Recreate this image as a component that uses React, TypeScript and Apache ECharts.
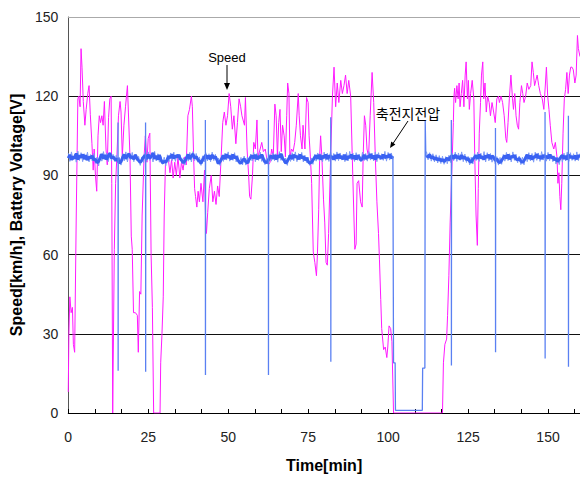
import React, { useEffect, useRef } from "react";
import * as echarts from "echarts";

// ---- Axis ticks ----
const timeTicks = { min: 0, max: 160, interval: 25 };
const valueTicks = { min: 0, max: 150, interval: 30 };

// ---- Speed [km/h] vs time [min] ----
const speedPoints: [number, number][] = [
  [0, 8], [0.2, 30], [0.5, 44], [0.9, 38], [1.3, 40], [1.6, 26], [2.0, 23], [2.5, 75], [3.0, 119], [3.3, 120],
  [3.7, 116], [4.0, 138], [4.3, 131], [4.7, 118], [5.2, 109], [5.6, 115], [6.1, 121], [6.5, 124], [6.9, 113], [7.4, 102],
  [7.8, 92], [8.1, 100], [8.5, 90], [8.9, 84], [9.3, 105], [9.7, 112.6], [10.1, 110], [10.5, 112.6], [10.9, 109], [11.3, 118],
  [11.8, 100], [12.2, 94], [12.6, 112], [13.0, 119], [13.4, 120], [13.6, 87], [13.9, 0], [14.1, 0], [14.4, 62], [14.8, 87],
  [15.2, 97], [15.7, 112.6], [16.2, 118], [16.5, 114], [16.9, 97], [17.4, 109], [17.9, 116], [18.5, 124], [18.8, 114], [19.3, 97],
  [19.7, 67], [20.0, 62], [20.4, 38], [21.0, 38], [21.6, 37], [21.9, 23], [22.3, 46], [22.7, 45], [23.1, 75], [23.7, 97],
  [24.1, 105], [24.6, 95], [25.0, 104], [25.5, 106], [25.9, 60], [26.3, 40], [26.7, 0], [28.7, 0], [28.9, 19], [29.3, 30],
  [29.7, 44], [30.0, 75], [30.4, 95], [31.2, 97], [31.8, 91], [32.3, 96], [32.8, 89], [33.3, 95], [33.8, 90], [34.3, 97],
  [34.9, 89], [35.4, 95], [35.9, 92], [36.4, 97], [36.9, 94], [37.4, 112.6], [37.9, 115], [38.5, 120], [38.8, 116], [39.2, 97],
  [39.5, 85], [39.8, 82], [40.2, 78], [40.6, 84], [41.0, 80], [41.5, 87], [42.1, 80], [42.6, 92], [42.9, 75], [43.2, 68],
  [43.6, 76], [44.1, 85], [44.7, 90], [45.2, 80], [45.7, 84], [46.2, 79], [46.7, 86], [47.2, 82], [47.8, 97], [48.3, 110],
  [48.8, 114], [49.3, 109], [49.8, 112.6], [50.3, 121], [50.8, 116], [51.3, 107.5], [51.8, 112.6], [52.4, 102], [52.9, 110], [53.4, 119],
  [53.9, 116], [54.3, 112.6], [55.1, 109], [55.4, 119.5], [55.9, 100], [56.4, 90], [56.7, 82], [57.1, 81], [57.6, 90], [58.0, 102.5],
  [58.5, 100], [59.0, 111], [59.3, 97], [60.0, 100], [60.5, 102.5], [61.0, 99], [61.6, 100], [62.1, 96], [62.6, 94], [63.1, 95],
  [63.6, 100], [64.1, 97], [64.6, 117], [65.0, 112.6], [65.4, 97], [65.8, 110], [66.2, 115], [66.6, 99], [67.0, 109], [67.5, 105],
  [67.9, 97], [68.3, 112.6], [68.6, 125], [69.0, 121], [69.3, 97], [69.8, 100], [70.3, 99], [70.8, 102.5], [71.3, 109], [71.9, 121],
  [72.2, 112.6], [72.6, 105], [73.1, 100], [73.4, 109], [74.0, 100], [74.5, 119.5], [75.0, 117.6], [75.3, 105], [75.7, 97], [76.1, 87],
  [76.6, 61], [77.1, 57], [77.6, 52], [77.9, 60], [78.3, 77], [78.6, 97], [78.9, 105], [79.3, 97], [79.8, 81], [80.2, 72],
  [80.6, 57], [81.0, 56], [81.4, 68], [82.1, 100], [82.6, 120], [83.1, 131], [83.6, 116], [84.1, 125], [84.6, 117.6], [85.2, 126],
  [85.7, 121], [86.2, 124], [86.7, 128], [87.2, 121], [87.7, 126], [88.3, 120], [88.8, 97], [89.3, 75], [89.6, 62], [90.0, 64],
  [90.3, 87], [90.8, 88], [91.4, 80], [91.9, 78], [92.2, 97], [92.6, 112.6], [93.0, 109], [93.4, 100], [93.9, 97], [94.4, 112.6],
  [95.0, 129], [95.5, 117.6], [96.0, 97], [96.5, 80], [97.0, 68], [97.3, 58], [97.7, 43], [98.0, 32], [98.6, 24], [99.1, 25],
  [99.6, 21], [99.9, 25], [100.3, 33], [100.8, 32], [101.2, 27], [101.7, 0], [117.0, 0], [117.3, 19], [117.75, 26], [118.3, 28],
  [118.6, 37], [119.0, 52], [119.4, 72], [119.8, 87], [120.4, 110], [120.6, 120], [120.8, 123], [121.1, 117.6], [121.5, 124], [121.9, 119],
  [122.2, 125], [122.5, 116], [122.9, 121], [123.3, 126], [123.7, 116], [124.1, 128], [124.4, 133], [124.8, 119], [125.1, 126], [125.4, 115],
  [125.8, 121], [126.3, 126], [126.8, 119], [127.1, 97], [127.5, 75], [127.9, 63.5], [128.2, 85], [128.5, 106], [128.9, 117.6], [129.2, 128],
  [129.6, 133], [129.9, 119], [130.3, 125], [130.7, 114], [131.1, 120], [131.6, 117.6], [132.0, 112.6], [132.5, 117.6], [133.0, 114], [133.5, 110],
  [134.0, 119], [134.5, 120], [134.8, 117.6], [135.3, 120], [135.8, 117.6], [136.3, 112.6], [136.8, 104], [137.1, 102.5], [137.5, 110], [137.9, 119],
  [138.4, 128], [138.9, 119], [139.2, 115], [139.6, 121], [140.0, 112.6], [140.4, 109], [140.8, 107.5], [141.2, 117.6], [141.7, 124], [142.1, 121],
  [142.5, 117.6], [143.0, 120], [143.5, 125], [144.0, 122.6], [144.6, 124], [145.0, 133], [145.4, 129], [145.8, 124], [146.2, 126], [146.6, 128],
  [147.1, 124], [147.6, 121], [148.2, 119], [148.7, 115], [149.2, 125], [149.5, 131], [149.9, 120], [150.3, 115], [150.7, 109], [151.2, 102.5],
  [151.8, 100], [152.3, 102.5], [152.8, 97], [153.1, 87], [153.4, 91], [153.7, 82], [154.0, 77], [154.3, 87], [154.7, 106], [155.1, 119],
  [155.5, 122.6], [155.9, 129], [156.3, 121], [156.7, 128], [157.1, 131], [157.5, 131], [157.9, 130], [158.4, 125], [158.8, 128], [159.2, 143],
  [159.5, 138], [160, 135],
];

// ---- Battery voltage [V], mean trace sampled every 0.5 min ----
const voltageStartA = 0;
const voltageA = [
  96.5, 97.8, 95.9, 97.2, 96.4, 98.3, 96.0, 97.5, 96.8, 97.9,
  96.2, 97.6, 95.8, 97.0, 96.6, 97.4, 95.9, 96.1, 94.8, 95.3,
  96.7, 98.1, 96.3, 97.7, 96.0, 97.3, 98.4, 96.5, 97.1, 96.2,
  95.7, 96.4, 94.6, 95.2, 96.8, 97.9, 96.3, 97.5, 98.2, 96.6,
  97.3, 96.1, 97.8, 96.4, 95.6, 94.9, 95.8, 96.9, 97.6, 96.2,
  97.9, 96.5, 97.2, 98.5, 96.3, 97.4, 96.0, 97.7, 95.8, 94.7,
  95.4, 94.9, 96.2, 97.3, 96.6, 98.0, 96.4, 97.5, 96.9, 97.8,
  96.3, 95.6, 94.8, 95.5, 96.7, 97.9, 96.2, 97.4, 98.1, 96.5,
  97.2, 96.0, 95.4, 94.6, 95.9, 96.8, 97.7, 96.3, 97.5, 96.1,
  97.8, 96.6, 97.1, 95.8, 94.5, 95.3, 96.4, 97.6, 96.2, 98.0,
  96.7, 97.4, 96.1, 97.9, 96.5, 97.2, 95.9, 95.0, 94.6, 95.7,
  96.3, 95.2, 94.7, 95.9, 96.8, 97.5, 96.4, 97.8, 96.1, 97.3,
  96.6, 97.9, 96.2, 95.1, 94.8, 95.6, 96.9, 97.4, 96.3, 97.7,
  96.0, 97.5, 96.8, 98.2, 96.4, 95.7, 94.6, 95.4, 96.5, 97.6,
  96.2, 97.8, 96.9, 97.3, 96.1, 97.9, 96.5, 97.2, 95.8, 96.6,
  95.3, 94.6, 94.9, 95.8, 96.7, 97.6, 96.3, 97.8, 96.0, 97.4,
  96.6, 97.9, 96.2, 97.5, 96.8, 97.1, 96.0, 97.7, 96.4, 98.0,
  96.5, 97.3, 96.1, 97.8, 95.9, 97.2, 96.6, 97.9, 96.3, 97.5,
  96.0, 97.6, 96.8, 95.7, 96.4, 97.8, 96.2, 97.3, 96.7, 98.1,
  96.4, 97.5, 96.0, 97.7, 96.9, 97.2, 96.3, 97.9, 96.6, 97.4,
  96.8, 98.0, 96.5, 97.3,
];
const voltageStartB = 112;
const voltageB = [
  97.6, 96.8, 97.9, 96.5, 97.2, 96.0, 96.7, 95.8, 96.4, 95.5,
  96.1, 95.2, 95.9, 96.6, 95.7, 96.9, 97.5, 96.3, 97.8, 96.6,
  97.3, 96.1, 97.7, 96.4, 97.0, 95.9, 96.5, 95.3, 95.0, 96.2,
  96.8, 97.6, 96.3, 97.9, 96.5, 97.2, 96.0, 97.5, 96.7, 97.8,
  96.2, 97.4, 96.8, 95.6, 96.3, 95.1, 94.8, 95.7, 96.6, 97.5,
  96.4, 97.9, 96.1, 97.3, 96.9, 97.6, 96.2, 95.8, 96.5, 95.4,
  94.9, 95.6, 96.7, 97.8, 96.3, 97.5, 96.0, 97.2, 96.8, 98.1,
  96.5, 97.4, 96.2, 97.7, 96.9, 97.3, 96.4, 97.9, 96.6, 97.1,
  95.8, 96.5, 95.2, 96.1, 96.9, 97.6, 96.3, 97.4, 96.0, 97.8,
  96.7, 97.2, 96.4, 97.5, 96.1, 97.6, 96.9,
];
// ---- Battery voltage ripple extremes (light fringe), same sampling ----
const rippleA = [
  98.4, 95.3, 98.9, 95.8, 98.1, 95.0, 99.2, 95.6, 98.6, 95.2,
  98.2, 95.7, 98.8, 95.1, 97.9, 95.5, 98.3, 94.6, 96.9, 93.6,
  98.1, 95.4, 99.0, 95.9, 98.5, 95.2, 98.7, 95.6, 98.0, 95.3,
  97.6, 94.7, 96.8, 93.9, 98.2, 95.5, 98.9, 95.1, 98.4, 95.8,
  98.7, 95.2, 98.1, 95.6, 97.2, 93.8, 97.0, 94.9, 98.6, 95.4,
  98.9, 95.7, 98.3, 95.1, 99.1, 95.5, 98.2, 95.0, 97.1, 94.2,
  96.9, 93.7, 97.8, 95.2, 98.5, 95.6, 98.8, 95.3, 98.1, 95.8,
  97.8, 94.6, 96.7, 93.9, 98.0, 95.4, 98.7, 95.1, 99.0, 95.6,
  98.3, 95.0, 97.0, 93.8, 97.4, 95.1, 98.6, 95.5, 98.2, 95.2,
  98.8, 95.6, 98.0, 94.5, 96.6, 93.7, 97.6, 95.3, 98.4, 95.8,
  98.9, 95.4, 98.2, 95.7, 98.6, 95.1, 97.5, 94.2, 96.8, 94.0,
  97.3, 93.9, 96.9, 94.6, 98.1, 95.5, 98.7, 95.2, 98.3, 95.7,
  98.8, 95.3, 97.6, 94.1, 96.7, 94.3, 97.9, 95.4, 98.5, 95.6,
  98.2, 95.0, 99.0, 95.7, 98.1, 94.8, 96.6, 93.8, 97.7, 95.3,
  98.6, 95.5, 98.9, 95.2, 98.3, 95.8, 98.7, 95.1, 97.6, 94.9,
  96.9, 93.8, 96.6, 94.2, 97.9, 95.4, 98.5, 95.6, 98.2, 95.1,
  98.8, 95.7, 98.4, 95.3, 99.0, 95.9, 98.3, 95.4, 98.9, 95.6,
  98.5, 95.8, 98.1, 95.2, 98.7, 95.5, 99.1, 95.9, 98.4, 95.3,
  98.6, 95.7, 98.0, 95.1, 98.8, 95.6, 98.3, 95.4, 99.0, 95.8,
  98.4, 95.5, 98.9, 95.2, 98.6, 95.9, 98.2, 95.7, 99.1, 95.4,
  98.7, 95.8, 98.5, 96.1,
];
const rippleB = [
  99.0, 95.9, 98.6, 95.4, 98.2, 95.1, 97.8, 94.7, 97.5, 94.5,
  97.3, 94.2, 97.1, 94.4, 97.6, 94.9, 98.4, 95.6, 98.8, 95.3,
  98.5, 95.7, 98.9, 95.2, 98.1, 94.9, 97.2, 94.0, 96.9, 94.3,
  98.2, 95.6, 98.8, 95.3, 98.4, 95.8, 99.0, 95.1, 98.6, 95.5,
  98.3, 95.0, 97.6, 94.4, 97.1, 93.9, 96.8, 94.2, 97.9, 95.4,
  98.7, 95.6, 98.2, 95.1, 98.9, 95.7, 98.0, 94.8, 97.3, 94.1,
  96.9, 94.0, 97.8, 95.2, 98.6, 95.5, 98.3, 95.0, 98.8, 95.7,
  98.5, 95.3, 99.0, 95.8, 98.2, 95.4, 98.7, 95.6, 98.1, 95.2,
  97.4, 94.3, 96.9, 94.1, 97.7, 95.0, 98.4, 95.5, 98.8, 95.3,
  98.6, 95.7, 98.2, 95.4, 98.9, 95.6, 98.3,
];
// [time, peak before drop, lowest value, value after]
const voltageDrops: [number, number, number, number][] = [
  [15.6, 110, 16, 96.8], [24.2, 110, 15.6, 97.0], [42.9, 111, 14.4, 96.5], [62.6, 111, 14.4, 96.7],
  [82.1, 112, 19.4, 97.2], [119.8, 111, 18, 96.9], [133.6, 108, 23, 96.6], [149.1, 114, 20.6, 97.0],
  [156.4, 112.6, 17.5, 96.8],
];
// charger off period
const voltageOutage: [number, number][] = [
  [101.5, 97.3], [101.6, 97.2], [101.7, 19], [102.2, 19], [102.3, 1], [110.7, 1], [110.8, 17], [111.5, 17], [111.6, 111], [111.8, 97.4], [112, 97.6],
];

function sampled(a: number[], b: number[]): (number | string)[][] {
  const pts: (number | string)[][] = [];
  a.forEach((v, i) => pts.push([voltageStartA + i * 0.5, v]));
  pts.push([106, "-"]);
  b.forEach((v, i) => pts.push([voltageStartB + i * 0.5, v]));
  return pts;
}

function buildSpikes(): (number | string)[][] {
  const pts: (number | string)[][] = [];
  voltageDrops.forEach(([t, hi, lo, back]) => {
    pts.push([t - 0.03, hi], [t, lo], [t + 0.03, back], [t + 0.05, "-"]);
  });
  voltageOutage.forEach((p) => pts.push(p));
  pts.push([112.05, "-"]);
  pts.sort((a, b) => (a[0] as number) - (b[0] as number));
  return pts;
}

const numFont = "'Liberation Sans', Arial, sans-serif";

export default function App() {
  const ref = useRef<HTMLDivElement>(null);
  useEffect(() => {
    if (!ref.current) return;
    const chart = echarts.init(ref.current, null, { renderer: "svg" });
    chart.setOption({
      animation: false,
      grid: { left: 65, right: -2, top: 17, bottom: 64, containLabel: false },
      xAxis: [
        {
          type: "value",
          min: timeTicks.min,
          max: timeTicks.max,
          interval: timeTicks.interval,
          name: "Time[min]",
          nameLocation: "middle",
          nameGap: 44,
          nameTextStyle: { fontFamily: numFont, fontWeight: "bold", fontSize: 16, color: "#000" },
          axisLine: { lineStyle: { color: "#000", width: 1 } },
          axisTick: { show: true, inside: true, length: 4, lineStyle: { color: "#000" } },
          minorTick: { show: true, splitNumber: 3, length: 4, lineStyle: { color: "#000" } },
          splitLine: { show: false },
          axisLabel: { fontFamily: numFont, fontSize: 14, color: "#222", margin: 17, showMaxLabel: false },
        },
        {
          type: "value",
          position: "top",
          min: timeTicks.min,
          max: timeTicks.max,
          interval: timeTicks.interval,
          axisLine: { show: true, lineStyle: { color: "#aaa", width: 1 } },
          axisTick: { show: false },
          axisLabel: { show: false },
          splitLine: { show: false },
        },
      ],
      yAxis: {
        type: "value",
        min: valueTicks.min,
        max: valueTicks.max,
        interval: valueTicks.interval,
        name: "Speed[km/h], Battery Voltage[V]",
        nameLocation: "middle",
        nameGap: 38,
        nameRotate: 90,
        nameTextStyle: { fontFamily: numFont, fontWeight: "bold", fontSize: 16, color: "#000" },
        axisLine: { show: true, lineStyle: { color: "#555", width: 1 } },
        axisTick: { show: false },
        splitLine: { show: true, showMinLine: false, showMaxLine: false, lineStyle: { color: "#111", width: 1 } },
        axisLabel: { fontFamily: numFont, fontSize: 14, color: "#222", margin: 10 },
      },
      series: [
        {
          name: "Speed",
          type: "line",
          data: speedPoints,
          showSymbol: false,
          symbol: "none",
          lineStyle: { color: "#ff1aff", width: 1 },
          z: 2,
        },
        {
          name: "Battery Voltage ripple",
          type: "line",
          data: sampled(rippleA, rippleB),
          showSymbol: false,
          symbol: "none",
          connectNulls: false,
          lineStyle: { color: "#7d9bf6", width: 1 },
          z: 3,
        },
        {
          name: "Battery Voltage",
          type: "line",
          data: sampled(voltageA, voltageB),
          showSymbol: false,
          symbol: "none",
          connectNulls: false,
          lineStyle: { color: "#3a62f2", width: 3, join: "bevel" },
          z: 4,
        },
        {
          name: "Battery Voltage drops",
          type: "line",
          data: buildSpikes(),
          showSymbol: false,
          symbol: "none",
          connectNulls: false,
          lineStyle: { color: "#5a80f2", width: 1.3 },
          z: 4,
        },
      ],
      graphic: [
        {
          type: "text",
          x: 227,
          y: 57.5,
          style: { text: "Speed", fontFamily: numFont, fontSize: 13, fill: "#000", align: "center", verticalAlign: "middle" },
          z: 10,
        },
        { type: "line", shape: { x1: 227, y1: 65, x2: 227, y2: 84 }, style: { stroke: "#000", lineWidth: 1 }, z: 10 },
        { type: "polygon", shape: { points: [[224, 83], [230, 83], [227, 90]] }, style: { fill: "#000" }, z: 10 },
        {
          type: "text",
          x: 408,
          y: 113,
          style: { text: "축전지전압", fontFamily: "'Noto Sans CJK KR', sans-serif", fontSize: 14, fill: "#000", align: "center", verticalAlign: "middle" },
          z: 10,
        },
        { type: "line", shape: { x1: 408, y1: 121, x2: 393, y2: 143.5 }, style: { stroke: "#000", lineWidth: 1 }, z: 10 },
        { type: "polygon", shape: { points: [[390, 148], [395.4, 144.4], [391.2, 141.6]] }, style: { fill: "#000" }, z: 10 },
      ],
    });
    return () => chart.dispose();
  }, []);
  return (
    <div
      ref={ref}
      style={{ position: "fixed", left: 0, top: 0, width: 580, height: 478, background: "#fff" }}
    />
  );
}
